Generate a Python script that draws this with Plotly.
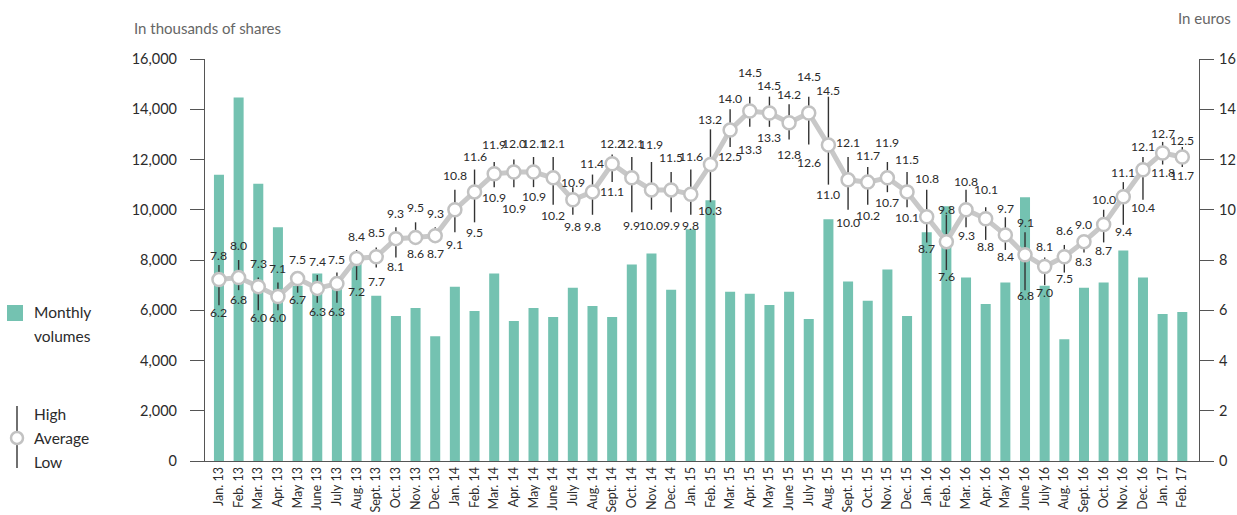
import plotly.graph_objects as go

months = ["Jan. 13", "Feb. 13", "Mar. 13", "Apr. 13", "May 13", "June 13", "July 13", "Aug. 13", "Sept. 13", "Oct. 13", "Nov. 13", "Dec. 13",
          "Jan. 14", "Feb. 14", "Mar. 14", "Apr. 14", "May 14", "June 14", "July 14", "Aug. 14", "Sept. 14", "Oct. 14", "Nov. 14", "Dec. 14",
          "Jan. 15", "Feb. 15", "Mar. 15", "Apr. 15", "May 15", "June 15", "July 15", "Aug. 15", "Sept. 15", "Oct. 15", "Nov. 15", "Dec. 15",
          "Jan. 16", "Feb. 16", "Mar. 16", "Apr. 16", "May 16", "June 16", "July 16", "Aug. 16", "Sept. 16", "Oct. 16", "Nov. 16", "Dec. 16",
          "Jan. 17", "Feb. 17"]

volumes = [11390, 14470, 11030, 9300, 6980, 7460, 6900, 8000, 6580, 5770, 6090, 4970,
           6940, 5970, 7460, 5570, 6090, 5730, 6900, 6170, 5730, 7820, 8260, 6820,
           9220, 10380, 6740, 6660, 6210, 6740, 5650, 9620, 7140, 6380, 7620, 5770,
           9100, 10140, 7300, 6250, 7100, 10500, 6980, 4850, 6900, 7100, 8380, 7300,
           5850, 5930]

high = [7.8, 8.0, 7.3, 7.1, 7.5, 7.4, 7.5, 8.4, 8.5, 9.3, 9.5, 9.3,
        10.8, 11.6, 11.9, 12.0, 12.1, 12.1, 10.9, 11.4, 12.2, 12.1, 11.9, 11.5,
        11.6, 13.2, 14.0, 14.5, 14.5, 14.2, 14.5, 14.5, 12.1, 11.7, 11.9, 11.5,
        10.8, 9.8, 10.8, 10.1, 9.7, 9.1, 8.1, 8.6, 9.0, 10.0, 11.1, 12.1,
        12.7, 12.5]

low = [6.2, 6.8, 6.0, 6.0, 6.7, 6.3, 6.3, 7.2, 7.7, 8.1, 8.6, 8.7,
       9.1, 9.5, 10.9, 10.9, 10.9, 10.2, 9.8, 9.8, 11.1, 9.9, 10.0, 9.9,
       9.8, 10.3, 12.5, 13.3, 13.3, 12.8, 12.6, 11.0, 10.0, 10.2, 10.7, 10.1,
       8.7, 7.6, 9.3, 8.8, 8.4, 6.8, 7.0, 7.5, 8.3, 8.7, 9.4, 10.4,
       11.8, 11.7]

average = [7.22, 7.30, 6.94, 6.55, 7.26, 6.87, 7.06, 8.06, 8.13, 8.85, 8.9, 8.97,
           10.0, 10.71, 11.43, 11.5, 11.5, 11.27, 10.4, 10.71, 11.83, 11.27, 10.79, 10.79,
           10.62, 11.8, 13.17, 13.93, 13.85, 13.46, 13.85, 12.58, 11.19, 11.1, 11.27, 10.71,
           9.72, 8.73, 10.0, 9.64, 9.0, 8.21, 7.74, 8.13, 8.73, 9.41, 10.52, 11.59,
           12.26, 12.1]

vol_ticks = [0, 2000, 4000, 6000, 8000, 10000, 12000, 14000, 16000]
eur_ticks = [0, 2, 4, 6, 8, 10, 12, 14, 16]

# label nudges in pixels (layout only): distance of each label centre from its line end
high_label_gap = [10, 14.5, 14, 14.5, 13.5, 13.5, 13.5, 13.5, 14.5, 13.5, 14.5, 13.5,
                  14, 13, 18, 16, 13, 13, 5, 11, 11, 13, 18, 15,
                  13, 10, 10.5, 24, 11, 9.5, 20, 6, 14, 12, 20, 13,
                  11, 5, 8, 17.5, 8.5, 9.5, 11, 14.5, 10, 10, 9.5, 10,
                  8, 6]
low_label_gap = [7, 9.5, 7.5, 7.5, 7, 9, 9, 11.5, 14, 9.5, 9, 11.5,
                 12, 10.5, 10.5, 21.5, 9.5, 11, 12, 12, 9.5, 13.5, 16, 13.5,
                 11, 8.5, 10, 23, 11, 15, 18, 10, 13, 11, 10.5, 10,
                 6.5, 6.5, 8, 6.5, 7, 5.5, 7.5, 5.5, 9, 8, 7, 8,
                 8, 8]

FONT = "Lato"
TEAL = "#74c2b1"
DARK = "#2b2b2b"

x = list(range(len(months)))

fig = go.Figure()

fig.add_trace(go.Bar(x=x, y=volumes, marker=dict(color=TEAL, line=dict(width=0)),
                     hoverinfo="skip", yaxis="y"))

# high-low ranges
hx, hy = [], []
for i, (lo, hi) in enumerate(zip(low, high)):
    hx += [i, i, None]
    hy += [lo, hi, None]
fig.add_trace(go.Scatter(x=hx, y=hy, mode="lines", line=dict(color="#333333", width=1.4),
                         hoverinfo="skip", yaxis="y2"))

fig.add_trace(go.Scatter(x=x, y=average, mode="lines+markers",
                         line=dict(color="#c8c8c8", width=5),
                         marker=dict(size=13, color="white", line=dict(color="#c2c2c2", width=2.5)),
                         hoverinfo="skip", yaxis="y2"))

L, R, T, B = 205, 1199, 59, 461
W, H = R - L, B - T


def px(xp):
    return (xp - L) / W


def py(yp):
    return (B - yp) / H


annotations = []
for i in x:
    annotations.append(dict(x=i, y=high[i], xref="x", yref="y2", text=f"{high[i]:.1f}",
                            yanchor="middle", xanchor="center", yshift=high_label_gap[i],
                            showarrow=False, borderpad=0,
                            font=dict(family=FONT, size=12.2, color=DARK)))
    annotations.append(dict(x=i, y=low[i], xref="x", yref="y2", text=f"{low[i]:.1f}",
                            yanchor="middle", xanchor="center", yshift=-low_label_gap[i],
                            showarrow=False, borderpad=0,
                            font=dict(family=FONT, size=12.2, color=DARK)))

side_texts = [
    dict(text="In thousands of shares", x=px(132), y=py(28), xanchor="left", yanchor="middle",
         font=dict(family=FONT, size=15, color="#666666")),
    dict(text="In euros", x=px(1233), y=py(18), xanchor="right", yanchor="middle",
         font=dict(family=FONT, size=15, color="#666666")),
    dict(text="Monthly", x=px(32), y=py(312), xanchor="left", yanchor="middle",
         font=dict(family=FONT, size=15.5, color=DARK)),
    dict(text="volumes", x=px(32), y=py(336), xanchor="left", yanchor="middle",
         font=dict(family=FONT, size=15.5, color=DARK)),
    dict(text="High", x=px(32), y=py(414), xanchor="left", yanchor="middle",
         font=dict(family=FONT, size=15.5, color=DARK)),
    dict(text="Average", x=px(32), y=py(438), xanchor="left", yanchor="middle",
         font=dict(family=FONT, size=15.5, color=DARK)),
    dict(text="Low", x=px(32), y=py(462), xanchor="left", yanchor="middle",
         font=dict(family=FONT, size=15.5, color=DARK)),
]
for a in side_texts:
    a.update(xref="paper", yref="paper", showarrow=False)
annotations += side_texts

shapes = [
    dict(type="rect", xref="paper", yref="paper", x0=px(7), x1=px(23), y0=py(321), y1=py(305),
         fillcolor=TEAL, line=dict(width=0)),
    dict(type="line", xref="paper", yref="paper", x0=px(17), x1=px(17), y0=py(406), y1=py(468),
         line=dict(color="#333333", width=1.4)),
    dict(type="circle", xref="paper", yref="paper", x0=px(11), x1=px(23), y0=py(444), y1=py(432),
         fillcolor="white", line=dict(color="#c2c2c2", width=2.5)),
]

fig.update_layout(
    width=1237, height=515,
    margin=dict(l=L, r=1237 - R, t=T, b=515 - B, autoexpand=False),
    paper_bgcolor="white", plot_bgcolor="white",
    showlegend=False,
    bargap=0.49,
    font=dict(family=FONT, color=DARK),
    xaxis=dict(range=[-0.71, 49.85], tickmode="array", tickvals=x, ticktext=months,
               tickangle=-90, tickfont=dict(family=FONT, size=12.5, color=DARK), automargin=False,
               showgrid=False, zeroline=False, showline=True, linecolor="#555555", linewidth=1.2,
               ticks=""),
    yaxis=dict(range=[0, 16000], tickmode="array", tickvals=vol_ticks, automargin=False,
               ticktext=[f"{v:,}" for v in vol_ticks], ticks="outside", ticklen=14,
               tickcolor="#555555", tickwidth=1, showgrid=False, zeroline=False,
               showline=True, linecolor="#555555", linewidth=1.2, ticklabelstandoff=10,
               tickfont=dict(family=FONT, size=14.5, color=DARK)),
    yaxis2=dict(range=[0, 16], overlaying="y", side="right", tickmode="array", tickvals=eur_ticks,
                automargin=False,
                ticktext=[str(v) for v in eur_ticks], ticks="outside", ticklen=14,
                tickcolor="#555555", tickwidth=1, showgrid=False, zeroline=False,
                showline=True, linecolor="#555555", linewidth=1.2, ticklabelstandoff=2,
                tickfont=dict(family=FONT, size=14.5, color=DARK)),
    annotations=annotations,
    shapes=shapes,
)

fig.write_html("out.html", config={"displayModeBar": False},
               post_script="document.body.style.margin='0px';document.body.style.overflow='hidden';")
